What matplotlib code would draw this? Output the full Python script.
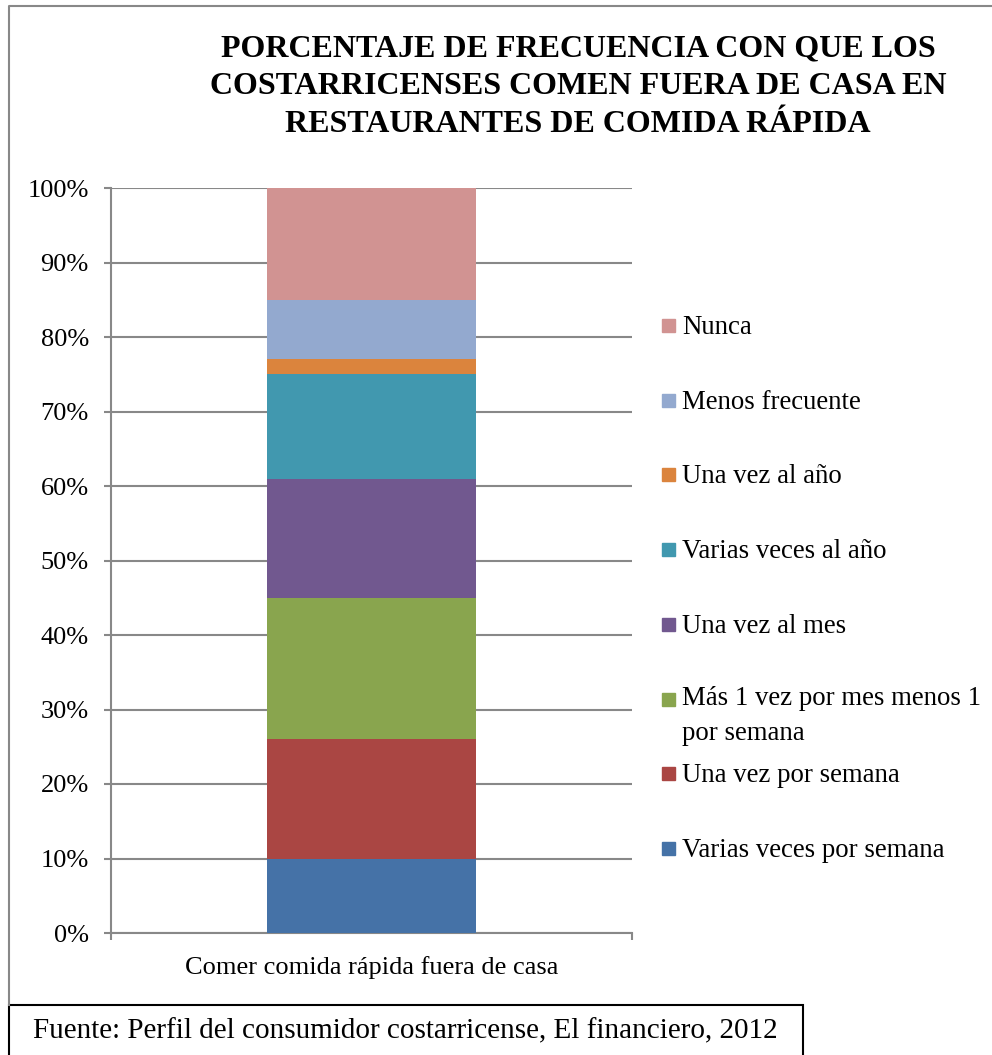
import matplotlib.pyplot as plt
from matplotlib.patches import Rectangle
from matplotlib.lines import Line2D

# Frecuencia de consumo en restaurantes de comida rápida (%)
categoria = 'Comer comida rápida fuera de casa'
frecuencias = ['Varias veces por semana', 'Una vez por semana',
               'Más 1 vez por mes menos 1\npor semana', 'Una vez al mes',
               'Varias veces al año', 'Una vez al año', 'Menos frecuente', 'Nunca']
porcentajes = [10, 16, 19, 16, 14, 2, 8, 15]
colores = ['#4572A7', '#AA4643', '#89A54E', '#71588F',
           '#4198AF', '#DB843D', '#93A9CF', '#D19392']
yticks = [0, 10, 20, 30, 40, 50, 60, 70, 80, 90, 100]

plt.rcParams['font.family'] = ['Liberation Serif', 'DejaVu Serif']

W, H = 992, 1055
fig = plt.figure(figsize=(W / 100, H / 100), dpi=100)
fig.patch.set_facecolor('white')

def fx(px):
    return px / W

def fy(px):
    return 1 - px / H

ax = fig.add_axes([fx(111), fy(933), fx(632) - fx(111), fy(188) - fy(933)])

base = 0
for val, col, lab in zip(porcentajes, colores, frecuencias):
    ax.bar(0, val, width=0.4, bottom=base, color=col, label=lab, zorder=3)
    base += val

ax.set_xlim(-0.5, 0.5)
ax.set_ylim(0, 100)
ax.set_yticks(yticks)
ax.set_yticklabels([f'{t}%' for t in yticks], fontsize=19)
ax.yaxis.grid(True, color='#888888', linewidth=1.5, zorder=0)
ax.tick_params(axis='y', length=5, width=1.5, color='#888888', pad=11)

ax.set_xticks([-0.5, 0.5])
ax.set_xticklabels(['', ''])
ax.tick_params(axis='x', length=5, width=1.5, color='#888888')
ax.text(0, -4.6, categoria, ha='center', va='center', fontsize=19,
        transform=ax.transData)

for s in ['top', 'right']:
    ax.spines[s].set_visible(False)
ax.spines['left'].set_color('#888888')
ax.spines['left'].set_linewidth(1.5)
ax.spines['bottom'].set_color('#888888')
ax.spines['bottom'].set_linewidth(1.5)

# título
fig.text(fx(578), fy(34), 'PORCENTAJE DE FRECUENCIA CON QUE LOS\n'
         'COSTARRICENSES COMEN FUERA DE CASA EN\n'
         'RESTAURANTES DE COMIDA RÁPIDA',
         ha='center', va='top', fontsize=23, fontweight='bold', linespacing=1.4)

# leyenda (de arriba hacia abajo: Nunca ... Varias veces por semana)
paso = 74.7
for i, (lab, col) in enumerate(zip(frecuencias[::-1], colores[::-1])):
    yb = 334 + i * paso
    extra = 32 * lab.count('\n')
    fig.patches.append(Rectangle((fx(662), fy(yb - 2)), fx(13), 13 / H,
                                 transform=fig.transFigure, color=col))
    fig.text(fx(682), fy(yb + extra), lab, ha='left', va='baseline', fontsize=19.3,
             linespacing=1.52)

# marco exterior (solo arriba e izquierda)
fig.lines.append(Line2D([fx(9), fx(9), 1.0], [fy(1005), fy(6), fy(6)],
                        transform=fig.transFigure, color='#888888', linewidth=1.5))

# recuadro de la fuente
fig.patches.append(Rectangle((fx(9), fy(1060)), fx(803) - fx(9), fy(1005) - fy(1060),
                             transform=fig.transFigure, fill=True, facecolor='white',
                             edgecolor='black', linewidth=1.5))
fig.text(fx(405), fy(1031), 'Fuente: Perfil del consumidor costarricense, El financiero, 2012',
         ha='center', va='center', fontsize=21)

fig.savefig('out.png', dpi=100)
